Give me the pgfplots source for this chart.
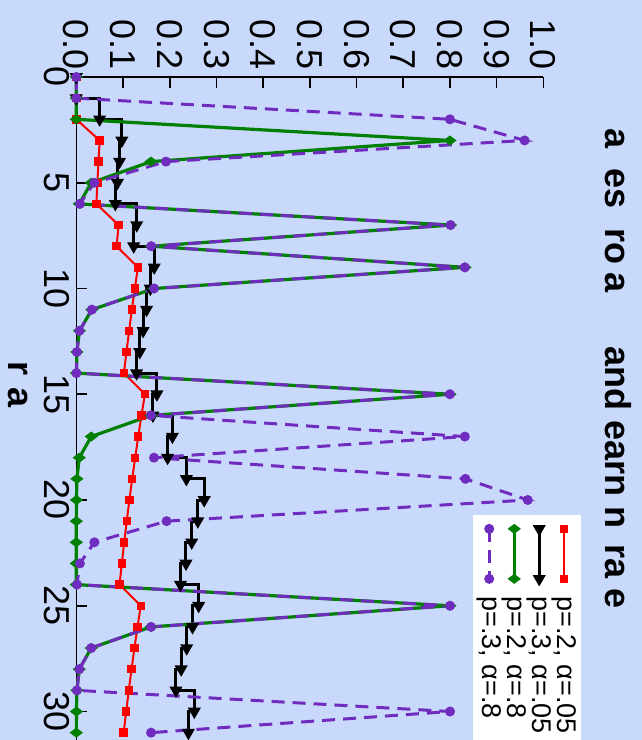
\documentclass[border=0pt]{standalone}
\usepackage{fontspec}
\setmainfont{Liberation Sans}
\usepackage{pgfplots}
\pgfplotsset{compat=1.18}
\definecolor{bgc}{RGB}{201,217,252}
\definecolor{pgreen}{RGB}{0,128,0}
\definecolor{ppurple}{RGB}{112,44,190}
\begin{document}
\begin{tikzpicture}[rotate=-90, transform shape]
\fill[bgc] (0,0) rectangle (370pt,321pt);
\useasboundingbox (0,0) rectangle (370pt,321pt);
\begin{axis}[
  at={(38.5pt,38.15pt)}, anchor=origin,
  x=10.575pt, y=233.5pt,
  xmin=0, xmax=31.4, ymin=0, ymax=1,
  axis x line=bottom, axis y line=left,
  axis line style={-, line width=0.8pt},
  xtick={0,5,10,15,20,25,30},
  ytick={0,0.1,0.2,0.3,0.4,0.5,0.6,0.7,0.8,0.9,1.0},
  tick align=inside,
  major tick length=5.5pt,
  tick style={line width=0.8pt, black},
  /pgf/number format/assume math mode=true,
  ticklabel style={font=\fontsize{18}{18}\selectfont},
  yticklabel style={/pgf/number format/.cd, fixed, fixed zerofill, precision=1},
  clip=false,
  legend style={at={(0.6596,1.081)}, anchor=north west, fill=white, draw=none,
    font=\fontsize{13.5}{13.5}\selectfont, inner xsep=5pt, inner ysep=2pt,
    nodes={inner sep=0pt, text height=9.5pt, text depth=3pt},
    row sep=0pt},
  legend cell align=left,
  legend image code/.code={\draw[mark repeat=1,mark phase=1,#1] plot coordinates {(0pt,0pt) (25pt,0pt)};},
  /tikz/every odd column/.append style={column sep=6.5pt},
]
\addplot[red, line width=1pt, mark=square*, mark size=1.6pt] coordinates {
(0,0)(1,0)(2,0)(3,0.05)(4,0.0475)(5,0.0451)(6,0.0429)(7,0.0907)(8,0.0862)(9,0.1319)(10,0.1253)(11,0.1190)(12,0.1131)(13,0.1074)(14,0.1020)(15,0.1469)(16,0.1396)(17,0.1326)(18,0.1260)(19,0.1197)(20,0.1137)(21,0.1080)(22,0.1026)(23,0.0975)(24,0.0926)(25,0.1380)(26,0.1311)(27,0.1245)(28,0.1183)(29,0.1124)(30,0.1068)(31,0.1014)};
\addlegendentry{p=.2, α=.05}
\addplot[black, line width=1.5pt, const plot mark right, mark=triangle*, mark size=2.3pt, mark options={rotate=-90}] coordinates {
(0,0)(1,0)(2,0.05)(3,0.0975)(4,0.0926)(5,0.0880)(6,0.0836)(7,0.1294)(8,0.1229)(9,0.1668)(10,0.1585)(11,0.1505)(12,0.1430)(13,0.1359)(14,0.1291)(15,0.1726)(16,0.1640)(17,0.2058)(18,0.1955)(19,0.2357)(20,0.2739)(21,0.2602)(22,0.2472)(23,0.2349)(24,0.2231)(25,0.2620)(26,0.2489)(27,0.2364)(28,0.2246)(29,0.2134)(30,0.2527)(31,0.2401)};
\addlegendentry{p=.3, α=.05}
\addplot[pgreen, line width=1.6pt, mark=diamond*, mark size=2pt] coordinates {
(0,0)(1,0)(2,0)(3,0.8)(4,0.16)(5,0.032)(6,0.0064)(7,0.8013)(8,0.1603)(9,0.8321)(10,0.1664)(11,0.0333)(12,0.0067)(13,0.0013)(14,0.0003)(15,0.8001)(16,0.1600)(17,0.0320)(18,0.0064)(19,0.0013)(20,0.0003)(21,0.0001)(22,0)(23,0)(24,0)(25,0.8)(26,0.16)(27,0.032)(28,0.0064)(29,0.0013)(30,0.0003)(31,0.0001)};
\addlegendentry{p=.2, α=.8}
\addplot[ppurple, line width=1.5pt, dash pattern=on 6.5pt off 4pt, mark=*, mark size=1.7pt, mark options={solid}] coordinates {
(0,0)(1,0)(2,0.8)(3,0.96)(4,0.192)(5,0.0384)(6,0.0077)(7,0.8015)(8,0.1603)(9,0.8321)(10,0.1664)(11,0.0333)(12,0.0067)(13,0.0013)(14,0.0003)(15,0.8001)(16,0.1600)(17,0.8320)(18,0.1664)(19,0.8333)(20,0.9667)(21,0.1933)(22,0.0387)(23,0.0077)(24,0.0015)(25,0.8003)(26,0.1601)(27,0.0320)(28,0.0064)(29,0.0013)(30,0.8003)(31,0.1601)};
\addlegendentry{p=.3, α=.8}
\end{axis}
\node[anchor=base west, inner sep=0pt, font=\fontsize{18}{18}\selectfont\bfseries] at (64pt,302.5pt)
  {a\hspace{10pt}es\hspace{10pt}ro\hspace{4pt}a\hspace{27pt}and earn\hspace{5pt}n\hspace{8pt}ra\hspace{5pt}e};
\node[anchor=base, inner sep=0pt, font=\fontsize{18}{18}\selectfont\bfseries] at (192.5pt,4.5pt) {r\hspace{6pt}a};
\end{tikzpicture}
\end{document}
